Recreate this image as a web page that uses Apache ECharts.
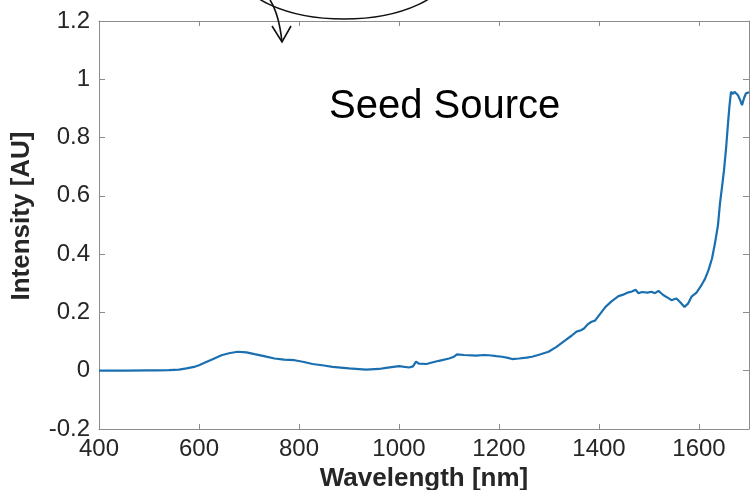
<!DOCTYPE html>
<html>
<head>
<meta charset="utf-8">
<script src="https://cdn.jsdelivr.net/npm/echarts@6/dist/echarts.min.js"></script>
<style>
  html, body { margin: 0; padding: 0; background: #fff; }
  #chart-panel { width: 750px; height: 490px; }
</style>
</head>
<body>
<div id="chart-panel"></div>
<script>
// wavelength samples (nm)
const wavelengths = [400, 450, 500, 508, 512, 516, 540, 560, 575, 590, 600, 611, 625, 645, 660, 677, 695, 711, 730, 751,
  770, 791, 810, 827, 850, 867, 900, 934, 960, 974, 1000, 1020, 1028, 1034, 1040, 1044, 1055, 1066, 1080, 1100,
  1110, 1116, 1130, 1154, 1170, 1180, 1195, 1206, 1218, 1226, 1240, 1255, 1266, 1280, 1299, 1315, 1333, 1345, 1355, 1359,
  1364, 1370, 1378, 1385, 1392, 1400, 1413, 1425, 1439, 1450, 1459, 1466, 1473, 1479, 1486, 1490, 1497, 1505, 1512, 1519,
  1525, 1530, 1538, 1545, 1550, 1555, 1562, 1571, 1578, 1585, 1595, 1605, 1612, 1619, 1626, 1632, 1638, 1642, 1646, 1650,
  1654, 1658, 1661, 1664, 1668, 1671, 1674, 1678, 1682, 1686, 1690, 1694, 1700];
// intensity [AU]
const intensity = [0.000, 0.000, 0.001, 0.001, 0.005, 0.001, 0.002, 0.004, 0.008, 0.013, 0.019, 0.027, 0.038, 0.053, 0.060, 0.065, 0.063, 0.057, 0.050, 0.042,
  0.038, 0.036, 0.030, 0.023, 0.018, 0.013, 0.008, 0.004, 0.006, 0.010, 0.016, 0.011, 0.015, 0.031, 0.024, 0.018, 0.023, 0.028, 0.034, 0.042,
  0.048, 0.056, 0.054, 0.052, 0.054, 0.053, 0.050, 0.048, 0.044, 0.040, 0.042, 0.045, 0.048, 0.055, 0.065, 0.082, 0.105, 0.120, 0.134, 0.128,
  0.139, 0.145, 0.160, 0.168, 0.172, 0.190, 0.219, 0.238, 0.256, 0.262, 0.269, 0.272, 0.278, 0.266, 0.270, 0.272, 0.268, 0.271, 0.266, 0.274,
  0.265, 0.258, 0.250, 0.242, 0.245, 0.248, 0.236, 0.219, 0.230, 0.254, 0.268, 0.294, 0.315, 0.345, 0.385, 0.438, 0.500, 0.575, 0.630, 0.688,
  0.760, 0.849, 0.910, 0.957, 0.950, 0.957, 0.957, 0.945, 0.930, 0.911, 0.935, 0.952, 0.955];
const xTicks = { min: 400, max: 1700, step: 200 };
const yTicks = { min: -0.2, max: 1.2, step: 0.2 };

const seriesData = wavelengths.map((w, i) => [w, intensity[i]]);

const myChart = echarts.init(document.getElementById('chart-panel'));

const axisLine = { show: true, onZero: false, lineStyle: { color: '#8c8c8c', width: 1 } };
const tickFont = { fontFamily: 'Liberation Sans', fontSize: 24, color: '#262626' };
const nameFont = { fontFamily: 'Liberation Sans', fontSize: 26, fontWeight: 'bold', color: '#262626' };

myChart.setOption({
  animation: false,
  backgroundColor: '#fff',
  grid: { left: 99, top: 21, right: 1, bottom: 61, outerBoundsMode: 'none' },
  xAxis: [
    {
      type: 'value', position: 'bottom',
      min: xTicks.min, max: xTicks.max, interval: xTicks.step,
      axisLine: axisLine,
      axisTick: { show: true, inside: true, length: 5, lineStyle: { color: '#8c8c8c' } },
      axisLabel: Object.assign({ margin: 8, showMaxLabel: false, formatter: v => String(v) }, tickFont),
      splitLine: { show: false },
      name: 'Wavelength [nm]', nameLocation: 'middle', nameGap: 34,
      nameTextStyle: nameFont
    },
    {
      type: 'value', position: 'top',
      min: xTicks.min, max: xTicks.max, interval: xTicks.step,
      axisLine: axisLine,
      axisTick: { show: true, inside: true, length: 5, lineStyle: { color: '#8c8c8c' } },
      axisLabel: { show: false },
      splitLine: { show: false }
    }
  ],
  yAxis: [
    {
      type: 'value', position: 'left',
      min: yTicks.min, max: yTicks.max, interval: yTicks.step,
      axisLine: axisLine,
      axisTick: { show: true, inside: true, length: 6, lineStyle: { color: '#8c8c8c' } },
      axisLabel: Object.assign({
        margin: 9,
        formatter: v => String(parseFloat(v.toFixed(1)))
      }, tickFont),
      splitLine: { show: false },
      name: 'Intensity [AU]', nameLocation: 'middle', nameGap: 64, nameRotate: 90,
      nameTextStyle: Object.assign({ padding: [0, 0, 0, 18] }, nameFont)
    },
    {
      type: 'value', position: 'right',
      min: yTicks.min, max: yTicks.max, interval: yTicks.step,
      axisLine: axisLine,
      axisTick: { show: true, inside: true, length: 6, lineStyle: { color: '#8c8c8c' } },
      axisLabel: { show: false },
      splitLine: { show: false }
    }
  ],
  series: [
    {
      name: 'Seed Source',
      type: 'line',
      data: seriesData,
      showSymbol: false,
      smooth: false,
      clip: true,
      lineStyle: { color: '#1a6fb0', width: 2.2 }
    }
  ],
  graphic: [
    {
      type: 'text', left: 329, top: 87, z: 10,
      style: { text: 'Seed Source', fontFamily: 'Liberation Sans', fontSize: 40, fill: '#000' }
    },
    {
      type: 'ellipse', z: 10,
      shape: { cx: 344, cy: -30, rx: 105, ry: 49 },
      style: { fill: 'none', stroke: '#111', lineWidth: 1.6 }
    },
    {
      type: 'bezierCurve', z: 10,
      shape: { x1: 270, y1: 0, cpx1: 279, cpy1: 14, x2: 282, y2: 42 },
      style: { fill: 'none', stroke: '#111', lineWidth: 1.6 }
    },
    {
      type: 'polyline', z: 10,
      shape: { points: [[272, 26], [282, 42], [291, 26]] },
      style: { fill: 'none', stroke: '#111', lineWidth: 1.6 }
    }
  ]
});
</script>
</body>
</html>
